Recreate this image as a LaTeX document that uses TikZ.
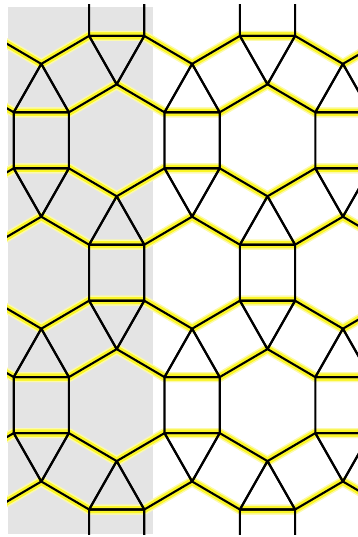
\documentclass[tikz,border=0pt]{standalone}
\definecolor{hl}{RGB}{250,245,40}
\definecolor{hlsoft}{RGB}{252,250,170}
\definecolor{bg}{RGB}{228,228,228}
\tikzset{
  hlglow/.style={draw=hlsoft, line width=10pt, line cap=round, line join=round},
  hlline/.style={draw=hl, line width=7pt, line cap=round, line join=round},
  tileline/.style={draw=black, line width=2.1pt, line cap=round, line join=round},
  hexunit/.style={x=55.2pt, y=56pt}
}
\newcommand\hexlist{-34.1/140.3,116.7/140.3,267.5/140.3,418.3/140.3,
  -34.1/405.1,116.7/405.1,267.5/405.1,418.3/405.1,
  -109.5/7.9,41.3/7.9,192.1/7.9,342.9/7.9,493.7/7.9,
  -109.5/272.7,41.3/272.7,192.1/272.7,342.9/272.7,493.7/272.7,
  -109.5/537.5,41.3/537.5,192.1/537.5,342.9/537.5,493.7/537.5}
\newcommand\hlpath{(0,1)--(.866,.5) (.866,-.5)--(0,-1)--(-.866,-.5) (-.866,.5)--(0,1)
  (.866,.5)--(1.866,.5) (.866,-.5)--(1.866,-.5)
  (-.866,.5)--(-1.866,.5) (-.866,-.5)--(-1.866,-.5)}
\begin{document}
\begin{tikzpicture}[x=1pt,y=-1pt]
  \useasboundingbox (0,0) rectangle (358,537);
  \fill[bg] (8,7) rectangle (153,534);
  \begin{scope}
    \clip (7,5) rectangle (358,534);
    % soft glow of highlighted (near-horizontal) edges
    \foreach \cx/\cy in \hexlist {
      \begin{scope}[shift={(\cx,\cy)}, hexunit]
        \path[hlglow] (0,1)--(.866,.5) (.866,-.5)--(0,-1)--(-.866,-.5) (-.866,.5)--(0,1)
          (.866,.5)--(1.866,.5) (.866,-.5)--(1.866,-.5)
          (-.866,.5)--(-1.866,.5) (-.866,-.5)--(-1.866,-.5);
      \end{scope}
    }
    % highlighted edges
    \foreach \cx/\cy in \hexlist {
      \begin{scope}[shift={(\cx,\cy)}, hexunit]
        \path[hlline] (0,1)--(.866,.5) (.866,-.5)--(0,-1)--(-.866,-.5) (-.866,.5)--(0,1)
          (.866,.5)--(1.866,.5) (.866,-.5)--(1.866,-.5)
          (-.866,.5)--(-1.866,.5) (-.866,-.5)--(-1.866,-.5);
      \end{scope}
    }
    % all tiling edges
    \foreach \cx/\cy in \hexlist {
      \begin{scope}[shift={(\cx,\cy)}, hexunit]
        \path[tileline] (0,1)--(.866,.5)--(.866,-.5)--(0,-1)--(-.866,-.5)--(-.866,.5)--cycle
          (0,1)--(.5,1.866) (.866,.5)--(1.366,1.366)
          (.866,.5)--(1.866,.5) (.866,-.5)--(1.866,-.5)
          (.866,-.5)--(1.366,-1.366) (0,-1)--(.5,-1.866)
          (0,-1)--(-.5,-1.866) (-.866,-.5)--(-1.366,-1.366)
          (-.866,-.5)--(-1.866,-.5) (-.866,.5)--(-1.866,.5)
          (-.866,.5)--(-1.366,1.366) (0,1)--(-.5,1.866);
      \end{scope}
    }
  \end{scope}
\end{tikzpicture}
\end{document}
